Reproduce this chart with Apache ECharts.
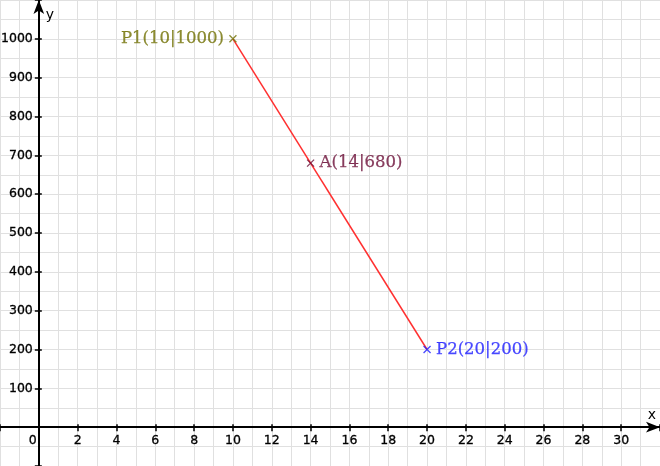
<!DOCTYPE html>
<html>
<head>
<meta charset="utf-8">
<script src="https://cdn.jsdelivr.net/npm/echarts@6/dist/echarts.min.js"></script>
<style>
  html, body { margin: 0; padding: 0; background: #fff; }
  #chart { width: 660px; height: 466px; }
</style>
</head>
<body>
<div id="chart"></div>
<script>
// Data
var lineX = [10, 20];
var lineY = [1000, 200];
var pointNames = ['P1(10|1000)', 'A(14|680)', 'P2(20|200)'];
var pointX = [10, 14, 20];
var pointY = [1000, 680, 200];
var pointColors = ['#6f6f00', '#6a0c36', '#1a1aff'];
var pointLabelPos = ['left', 'right', 'right'];

var xMin = -2, xMax = 32, xStep = 2;
var yMin = -100, yMax = 1100, yStep = 100;

var W = 660, H = 466;
var chart = echarts.init(document.getElementById('chart'), null, {renderer: 'canvas'});

// axes sit on the zero lines, shift them in from the grid edges
var xAxisShift = -H * (0 - yMin) / (yMax - yMin);
var yAxisShift = -W * (0 - xMin) / (xMax - xMin);

var crossPath = 'path://M0,0L10,10M10,0L0,10';
var gridColor = '#e0e0e0';
var tickFontFamily = 'DejaVu Sans';
var axisFont = {fontFamily: tickFontFamily, fontSize: 12.5, color: '#000',
  textBorderColor: '#000', textBorderWidth: 0.3};

function xLabel(v) {
  if (v === 0) return '{z|0}';
  return (v > 0 && v < xMax) ? String(v) : '';
}
function yLabel(v) {
  return (v > 0 && v < yMax) ? String(v) : '';
}

var scatterData = pointX.map(function (x, i) {
  return {
    name: pointNames[i],
    value: [x, pointY[i]],
    itemStyle: {color: 'none', borderColor: pointColors[i], borderWidth: 1.3},
    label: {
      show: true,
      position: pointLabelPos[i],
      distance: 3,
      formatter: '{b}',
      color: pointColors[i],
      textBorderColor: pointColors[i],
      textBorderWidth: 0.25,
      fontFamily: 'DejaVu Serif',
      fontSize: 16.5
    }
  };
});

var option = {
  animation: false,
  backgroundColor: '#fff',
  grid: {left: 0, right: 0, top: 0, bottom: 0, containLabel: false, outerBoundsMode: 'none'},
  xAxis: [{
    type: 'value',
    position: 'bottom',
    offset: xAxisShift,
    min: xMin, max: xMax, interval: xStep,
    name: 'x',
    nameLocation: 'end',
    nameGap: -8,
    nameTextStyle: {fontFamily: tickFontFamily, fontSize: 14, color: '#000',
      align: 'center', verticalAlign: 'bottom', padding: [0, 0, 5, 0]},
    axisLine: {show: true, onZero: false,
      symbol: ['none', 'arrow'], symbolSize: [8, 14],
      lineStyle: {color: '#000', width: 2}},
    axisTick: {show: true, inside: false, length: 4, lineStyle: {color: '#000', width: 1.5}},
    axisLabel: Object.assign({margin: 7, formatter: xLabel,
      rich: {z: {fontFamily: tickFontFamily, fontSize: 12.5, color: '#000',
        textBorderColor: '#000', textBorderWidth: 0.3, padding: [0, 12, 0, 0]}}}, axisFont),
    splitLine: {show: true, lineStyle: {color: gridColor, width: 1}},
    minorTick: {show: false, splitNumber: 2},
    minorSplitLine: {show: true, lineStyle: {color: gridColor, width: 1}}
  }, {
    type: 'value',
    position: 'bottom',
    offset: xAxisShift,
    min: xMin, max: xMax, interval: xStep,
    axisLine: {show: false, onZero: false},
    axisTick: {show: true, inside: true, length: 3, lineStyle: {color: '#000', width: 1.5}},
    axisLabel: {show: false},
    splitLine: {show: false}
  }],
  yAxis: [{
    type: 'value',
    position: 'left',
    offset: yAxisShift,
    min: yMin, max: yMax, interval: yStep,
    name: 'y',
    nameLocation: 'end',
    nameGap: -15,
    nameTextStyle: {fontFamily: tickFontFamily, fontSize: 14, color: '#000',
      align: 'left', verticalAlign: 'middle', padding: [0, 0, 0, 7]},
    axisLine: {show: true, onZero: false,
      symbol: ['none', 'arrow'], symbolSize: [8, 14],
      lineStyle: {color: '#000', width: 2}},
    axisTick: {show: true, inside: false, length: 4, lineStyle: {color: '#000', width: 1.5}},
    axisLabel: Object.assign({margin: 6, formatter: yLabel}, axisFont),
    splitLine: {show: true, lineStyle: {color: gridColor, width: 1}},
    minorTick: {show: false, splitNumber: 2},
    minorSplitLine: {show: true, lineStyle: {color: gridColor, width: 1}}
  }, {
    type: 'value',
    position: 'left',
    offset: yAxisShift,
    min: yMin, max: yMax, interval: yStep,
    axisLine: {show: false, onZero: false},
    axisTick: {show: true, inside: true, length: 3, lineStyle: {color: '#000', width: 1.5}},
    axisLabel: {show: false},
    splitLine: {show: false}
  }],
  series: [{
    type: 'line',
    data: lineX.map(function (x, i) { return [x, lineY[i]]; }),
    showSymbol: false,
    symbol: 'none',
    lineStyle: {color: '#ff3030', width: 1.5},
    z: 2
  }, {
    type: 'scatter',
    symbol: crossPath,
    symbolSize: 7,
    data: scatterData,
    z: 3
  }]
};

chart.setOption(option);
</script>
</body>
</html>
